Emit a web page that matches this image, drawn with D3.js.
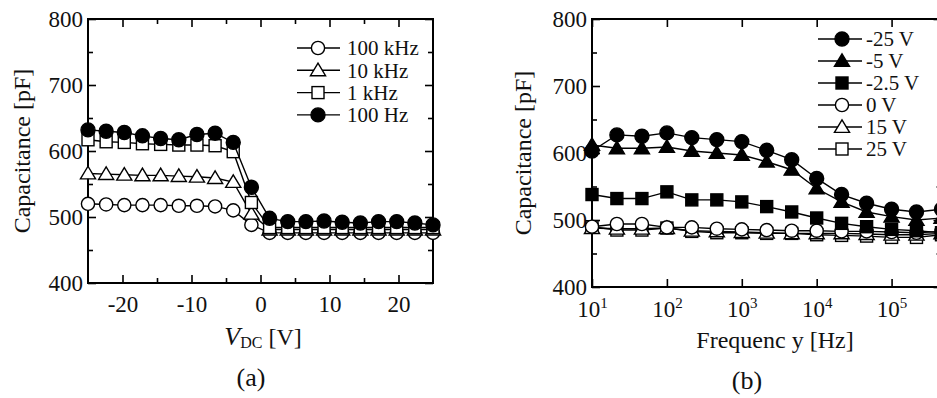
<!DOCTYPE html>
<html><head><meta charset="utf-8">
<script src="https://cdn.jsdelivr.net/npm/d3@7"></script>
<style>
body{margin:0;background:#fff;}
svg{display:block;font-family:"Liberation Serif","Times New Roman",serif;}
</style></head>
<body><svg id="c" width="937" height="398"></svg>
<script>
// ---------- Panel (a) data ----------
const vdc = [-25,-22.37,-19.74,-17.11,-14.47,-11.84,-9.21,-6.58,-3.95,-1.32,1.32,3.95,6.58,9.21,11.84,14.47,17.11,19.74,22.37,25];
const c100kHz = [520,519,518,518,518,517,517,516,510,488,476,476,476,476,476,476,476,476,476,476];
const c10kHz  = [566,565,564,563,563,562,561,559,553,505,481,481,481,481,481,481,481,481,481,481];
const c1kHz   = [617,614,613,611,610,609,609,608,599,522,484,484,484,484,484,484,484,484,484,484];
const c100Hz  = [632,630,628,623,619,617,625,627,613,545,498,493,493,494,492,491,493,493,491,488];
const seriesA = ["100 kHz","10 kHz","1 kHz","100 Hz"];
const markersA = ["circleOpen","triOpen","squareOpen","circleFill"];

// ---------- Panel (b) data ----------
const freq = [10,21.5,46.4,100,215,464,1000,2150,4640,10000,21500,46400,100000,215000,464000];
const vm25  = [603,627,625,630,623,620,617,604,590,562,538,525,516,512,516];
const vm5   = [612,607,607,609,603,600,597,587,575,547,527,512,505,500,503];
const vm2_5 = [538,532,532,542,530,530,527,520,512,503,495,490,486,484,481];
const v0    = [490,494,494,489,489,487,486,485,484,484,483,483,482,481,483];
const v15   = [488,487,487,488,484,483,482,481,480,480,480,479,478,478,480];
const v25   = [490,485,485,488,483,481,481,480,480,478,477,476,474,474,478];
const seriesB = ["-25 V","-5 V","-2.5 V","0 V","15 V","25 V"];
const markersB = ["circleFill","triFill","squareFill","circleOpen","triOpen","squareOpen"];

// tick values
const yMajor = [400,500,600,700,800];
const yMinor = [450,550,650,750];
const xMajorA = [-20,-10,0,10,20];
const xMinorA = [-15,-5,5,15];
const xMajorB = [10,100,1000,10000,100000];

const svg = d3.select("#c");
const FS = 23;

function drawMarker(g, type, x, y) {
  const fill = type.endsWith("Fill") ? "#000" : "#fff";
  let el;
  if (type.startsWith("circle")) {
    el = g.append("circle").attr("cx", x).attr("cy", y).attr("r", type.endsWith("Fill") ? 7 : 6.6);
  } else if (type.startsWith("square")) {
    el = g.append("rect").attr("x", x-6).attr("y", y-6).attr("width", 12).attr("height", 12);
  } else {
    const s = 7.2;
    el = g.append("path").attr("d", `M${x},${y-s}L${x+s*1.05},${y+s*0.75}L${x-s*1.05},${y+s*0.75}Z`);
  }
  el.attr("fill", fill).attr("stroke", "#000").attr("stroke-width", 1.4);
}

function frame(g, x0, x1, y0, y1) {
  g.append("rect").attr("x", x0).attr("y", y1).attr("width", x1-x0).attr("height", y0-y1)
    .attr("fill", "none").attr("stroke", "#000").attr("stroke-width", 2);
}

function styleAxis(sel) {
  sel.select(".domain").remove();
  sel.selectAll("line").attr("stroke", "#000").attr("stroke-width", 1.6);
  sel.selectAll("text").attr("font-size", FS).attr("fill", "#111").attr("font-family", "Liberation Serif");
}

// ================= Panel (a) =================
{
  const x = d3.scaleLinear().domain([-25, 25]).range([88, 433]);
  const y = d3.scaleLinear().domain([400, 800]).range([283, 19]);
  const g = svg.append("g");

  g.append("g").attr("transform", `translate(0,${y(400)})`)
    .call(d3.axisBottom(x).tickValues(xMajorA).tickSizeInner(-8).tickSizeOuter(0).tickPadding(13).tickFormat(d => d)).call(styleAxis);
  g.append("g").attr("transform", `translate(0,${y(400)})`)
    .call(d3.axisBottom(x).tickValues(xMinorA).tickSizeInner(-5).tickSizeOuter(0).tickFormat("")).call(styleAxis);
  g.append("g").attr("transform", `translate(0,${y(800)})`)
    .call(d3.axisTop(x).tickValues(xMajorA).tickSizeInner(-8).tickSizeOuter(0).tickFormat("")).call(styleAxis);
  g.append("g").attr("transform", `translate(0,${y(800)})`)
    .call(d3.axisTop(x).tickValues(xMinorA).tickSizeInner(-5).tickSizeOuter(0).tickFormat("")).call(styleAxis);
  g.append("g").attr("transform", `translate(${x(-25)},0)`)
    .call(d3.axisLeft(y).tickValues(yMajor).tickSizeInner(-8).tickSizeOuter(0).tickPadding(5)).call(styleAxis);
  g.append("g").attr("transform", `translate(${x(-25)},0)`)
    .call(d3.axisLeft(y).tickValues(yMinor).tickSizeInner(-5).tickSizeOuter(0).tickFormat("")).call(styleAxis);
  g.append("g").attr("transform", `translate(${x(25)},0)`)
    .call(d3.axisRight(y).tickValues(yMajor).tickSizeInner(-8).tickSizeOuter(0).tickFormat("")).call(styleAxis);
  g.append("g").attr("transform", `translate(${x(25)},0)`)
    .call(d3.axisRight(y).tickValues(yMinor).tickSizeInner(-5).tickSizeOuter(0).tickFormat("")).call(styleAxis);
  frame(g, x(-25), x(25), y(400), y(800));

  const data = [c100kHz, c10kHz, c1kHz, c100Hz];
  const line = d3.line().x((d, i) => x(vdc[i])).y(d => y(d));
  data.forEach((s, k) => {
    g.append("path").attr("d", line(s)).attr("fill", "none").attr("stroke", "#000").attr("stroke-width", 1.4);
    s.forEach((v, i) => drawMarker(g, markersA[k], x(vdc[i]), y(v)));
  });

  // legend
  seriesA.forEach((name, k) => {
    const ly = 48 + k * 22.3;
    g.append("line").attr("x1", 297).attr("x2", 340).attr("y1", ly).attr("y2", ly).attr("stroke", "#000").attr("stroke-width", 1.4);
    drawMarker(g, markersA[k], 318, ly);
    g.append("text").attr("x", 347).attr("y", ly).attr("dy", "0.35em").attr("font-size", 21).attr("fill", "#111").text(name);
  });

  // axis titles
  g.append("text").attr("transform", `translate(30,${(y(400)+y(800))/2}) rotate(-90)`)
    .attr("text-anchor", "middle").attr("font-size", 24).attr("fill", "#111").text("Capacitance [pF]");
  const t = g.append("text").attr("x", 263).attr("y", 345).attr("text-anchor", "middle").attr("font-size", 24).attr("fill", "#111");
  t.append("tspan").attr("font-style", "italic").attr("font-size", 26).text("V");
  t.append("tspan").attr("font-size", 16).attr("dy", 3).text("DC");
  t.append("tspan").attr("dy", -3).text(" [V]");
  g.append("text").attr("x", 251).attr("y", 386).attr("text-anchor", "middle").attr("font-size", 26).attr("fill", "#111").text("(a)");
}

// ================= Panel (b) =================
{
  const x = d3.scaleLog().domain([10, 464000]).range([592, 941.5]);
  const y = d3.scaleLinear().domain([400, 800]).range([287, 19]);
  const g = svg.append("g");

  const bx = g.append("g").attr("transform", `translate(0,${y(400)})`)
    .call(d3.axisBottom(x).tickValues(xMajorB).tickSizeInner(-8).tickSizeOuter(0).tickPadding(14).tickFormat(() => "")).call(styleAxis);
  bx.selectAll(".tick text").each(function(d) {
    const tx = d3.select(this).attr("text-anchor", "middle");
    tx.append("tspan").text("10");
    tx.append("tspan").attr("font-size", 15).attr("dy", "-0.65em").text(Math.round(Math.log10(d)));
  });
  g.append("g").attr("transform", `translate(0,${y(800)})`)
    .call(d3.axisTop(x).tickValues(xMajorB).tickSizeInner(-8).tickSizeOuter(0).tickFormat("")).call(styleAxis);
  g.append("g").attr("transform", `translate(${x(10)},0)`)
    .call(d3.axisLeft(y).tickValues(yMajor).tickSizeInner(-8).tickSizeOuter(0).tickPadding(5)).call(styleAxis);
  g.append("g").attr("transform", `translate(${x(10)},0)`)
    .call(d3.axisLeft(y).tickValues(yMinor).tickSizeInner(-5).tickSizeOuter(0).tickFormat("")).call(styleAxis);
  g.append("g").attr("transform", `translate(${x(464000)},0)`)
    .call(d3.axisRight(y).tickValues(yMajor).tickSizeInner(-8).tickSizeOuter(0).tickFormat("")).call(styleAxis);
  g.append("g").attr("transform", `translate(${x(464000)},0)`)
    .call(d3.axisRight(y).tickValues(yMinor).tickSizeInner(-5).tickSizeOuter(0).tickFormat("")).call(styleAxis);
  frame(g, x(10), x(464000), y(400), y(800));

  const data = [vm25, vm5, vm2_5, v0, v15, v25];
  const line = d3.line().x((d, i) => x(freq[i])).y(d => y(d));
  [5,4,3,2,1,0].forEach(k => {
    const s = data[k];
    g.append("path").attr("d", line(s)).attr("fill", "none").attr("stroke", "#000").attr("stroke-width", 1.4);
    s.forEach((v, i) => drawMarker(g, markersB[k], x(freq[i]), y(v)));
  });

  seriesB.forEach((name, k) => {
    const ly = 39 + k * 22;
    g.append("rect").attr("x", 812).attr("y", ly-11).attr("width", 125).attr("height", 22).attr("fill", "#fff");
    g.append("line").attr("x1", 818).attr("x2", 862).attr("y1", ly).attr("y2", ly).attr("stroke", "#000").attr("stroke-width", 1.4);
    drawMarker(g, markersB[k], 842, ly);
    g.append("text").attr("x", 866).attr("y", ly).attr("dy", "0.35em").attr("font-size", 21).attr("fill", "#111").text(name);
  });

  g.append("text").attr("transform", `translate(531,${(y(400)+y(800))/2}) rotate(-90)`)
    .attr("text-anchor", "middle").attr("font-size", 24).attr("fill", "#111").text("Capacitance [pF]");
  g.append("text").attr("x", 775).attr("y", 348).attr("text-anchor", "middle").attr("font-size", 24).attr("fill", "#111").text("Frequenc y [Hz]");
  g.append("text").attr("x", 747).attr("y", 389).attr("text-anchor", "middle").attr("font-size", 26).attr("fill", "#111").text("(b)");
}
</script></body></html>
